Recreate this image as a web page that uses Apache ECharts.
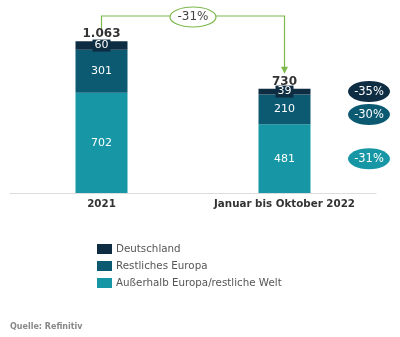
<!DOCTYPE html>
<html>
<head>
<meta charset="utf-8">
<script src="https://cdn.jsdelivr.net/npm/echarts@6/dist/echarts.min.js"></script>
<style>
  html, body { margin: 0; padding: 0; background: #fff; }
  #chart { width: 400px; height: 337px; }
</style>
</head>
<body>
<div id="chart"></div>
<script>
// Periods and regional breakdown (values)
const categories = ['2021', 'Januar bis Oktober 2022'];
const seriesNames = ['Deutschland', 'Restliches Europa', 'Außerhalb Europa/restliche Welt'];
const deutschland = [60, 39];
const restlichesEuropa = [301, 210];
const ausserhalb = [702, 481];
const totals = [1063, 730];

const colors = {
  'Deutschland': '#0f2d42',
  'Restliches Europa': '#0c5a72',
  'Außerhalb Europa/restliche Welt': '#1797a6'
};
const FONT = 'DejaVu Sans';

// German number format: thousands separated by "."
function fmt(v) {
  return String(v).replace(/\B(?=(\d{3})+(?!\d))/g, '.');
}
function pct(a, b) {
  return Math.round((b / a - 1) * 100) + '%';
}

const chart = echarts.init(document.getElementById('chart'), null, { renderer: 'canvas' });

function segLabel(boxed, color) {
  const l = {
    show: true,
    position: 'inside',
    color: '#fff',
    fontFamily: FONT,
    fontSize: 11,
    formatter: p => fmt(p.value)
  };
  if (boxed) {
    l.backgroundColor = color;
    l.padding = [1, 2, 0, 2];
  }
  return l;
}

chart.setOption({
  animation: false,
  grid: { left: 10, right: 24, top: 36, bottom: 144, containLabel: false },
  xAxis: {
    type: 'category',
    data: categories,
    axisLine: { show: true, lineStyle: { color: '#dcdcdc', width: 1 } },
    axisTick: { show: false },
    axisLabel: {
      interval: 0,
      color: '#333',
      fontFamily: FONT,
      fontWeight: 'bold',
      fontSize: 10.3,
      margin: 6
    }
  },
  yAxis: {
    type: 'value',
    min: 0,
    max: 1100,
    show: false,
    splitLine: { show: false }
  },
  legend: {
    orient: 'vertical',
    left: 97,
    top: 244,
    padding: 0,
    itemWidth: 15,
    itemHeight: 10,
    itemGap: 7,
    icon: 'rect',
    data: seriesNames,
    textStyle: { color: '#555', fontFamily: FONT, fontSize: 10.3, padding: [0, 0, 0, -1] }
  },
  series: [
    {
      name: 'Außerhalb Europa/restliche Welt',
      type: 'bar',
      stack: 'total',
      barWidth: 52,
      data: ausserhalb,
      itemStyle: { color: colors['Außerhalb Europa/restliche Welt'] },
      label: segLabel(false)
    },
    {
      name: 'Restliches Europa',
      type: 'bar',
      stack: 'total',
      data: restlichesEuropa,
      itemStyle: { color: colors['Restliches Europa'] },
      label: segLabel(false)
    },
    {
      name: 'Deutschland',
      type: 'bar',
      stack: 'total',
      data: deutschland,
      itemStyle: { color: colors['Deutschland'] },
      label: segLabel(true, colors['Deutschland'])
    },
    {
      // invisible bar carrying the total labels
      name: 'Summe',
      type: 'bar',
      barWidth: 52,
      barGap: '-100%',
      data: totals,
      silent: true,
      z: 0,
      itemStyle: { color: 'rgba(0,0,0,0)' },
      label: {
        show: true,
        position: 'top',
        distance: 1,
        color: '#333',
        fontFamily: FONT,
        fontWeight: 'bold',
        fontSize: 12,
        formatter: p => fmt(p.value)
      }
    }
  ]
});

// Annotations: overall change arrow and per-region change bubbles
function px(cat, val) {
  return chart.convertToPixel({ xAxisIndex: 0, yAxisIndex: 0 }, [cat, val]);
}
const graphics = [];

// arrow from 2021 total to 2022 total
const p0 = px(0, totals[0]);
const p1 = px(1, totals[1]);
const lineY = 16;
const green = '#7cb84a';
graphics.push({
  type: 'polyline',
  shape: { points: [[p0[0], p0[1] - 12], [p0[0], lineY], [p1[0], lineY], [p1[0], p1[1] - 21]] },
  style: { stroke: green, lineWidth: 1.2, fill: null }
});
graphics.push({
  type: 'polygon',
  shape: { points: [[p1[0] - 3.5, p1[1] - 22], [p1[0] + 3.5, p1[1] - 22], [p1[0], p1[1] - 15]] },
  style: { fill: green }
});
const midX = (p0[0] + p1[0]) / 2;
graphics.push({
  type: 'ellipse',
  shape: { cx: midX, cy: lineY + 1, rx: 23, ry: 10 },
  style: { fill: '#fff', stroke: green, lineWidth: 1.2 }
});
graphics.push({
  type: 'text',
  x: midX, y: lineY + 1,
  style: {
    text: pct(totals[0], totals[1]), fill: '#444', font: '12px ' + FONT,
    align: 'center', verticalAlign: 'middle'
  }
});

// bubbles next to the 2022 bar, placed at segment midpoints
const segs = [
  { name: 'Deutschland', a: deutschland, base: ausserhalb[1] + restlichesEuropa[1] },
  { name: 'Restliches Europa', a: restlichesEuropa, base: ausserhalb[1] },
  { name: 'Außerhalb Europa/restliche Welt', a: ausserhalb, base: 0 }
];
const bubbleX = 369;
let prevY = -Infinity;
segs.forEach(s => {
  let cy = px(1, s.base + s.a[1] / 2)[1];
  if (cy < prevY + 23) cy = prevY + 23;
  prevY = cy;
  graphics.push({
    type: 'ellipse',
    shape: { cx: bubbleX, cy: cy, rx: 21, ry: 10.5 },
    style: { fill: colors[s.name] }
  });
  graphics.push({
    type: 'text',
    x: bubbleX, y: cy,
    style: {
      text: pct(s.a[0], s.a[1]), fill: '#fff', font: '11.5px ' + FONT,
      align: 'center', verticalAlign: 'middle'
    }
  });
});

// source note
graphics.push({
  type: 'text',
  left: 10, top: 323,
  style: { text: 'Quelle: Refinitiv', fill: '#888', font: 'bold 8px ' + FONT }
});

chart.setOption({ graphic: graphics });
</script>
</body>
</html>
